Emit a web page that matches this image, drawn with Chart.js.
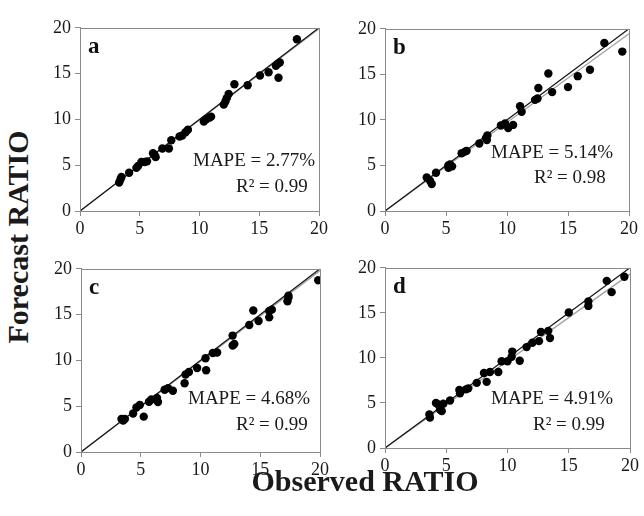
<!DOCTYPE html>
<html>
<head>
<meta charset="utf-8">
<script src="https://cdn.jsdelivr.net/npm/chart.js@4.4.1/dist/chart.umd.min.js"></script>
<style>
  html, body { margin:0; padding:0; background:#fff; }
  #wrap { position:relative; width:644px; height:516px; overflow:hidden; background:#fff; }
  canvas { position:absolute; }
  .title { position:absolute; font-family:"Liberation Serif","DejaVu Serif",serif; font-weight:bold; color:#1a1a1a; white-space:nowrap; }
</style>
</head>
<body>
<div id="wrap">
  <canvas id="ca"></canvas>
  <canvas id="cb"></canvas>
  <canvas id="cc"></canvas>
  <canvas id="cd"></canvas>
  <div class="title" id="ytitle">Forecast RATIO</div>
  <div class="title" id="xtitle">Observed RATIO</div>
</div>
<script>
// ---- data ----
const axisTicks = [0, 5, 10, 15, 20];
const panelLetters = ['a', 'b', 'c', 'd'];
const mapeLabels = ['MAPE = 2.77%', 'MAPE = 5.14%', 'MAPE = 4.68%', 'MAPE = 4.91%'];
const r2Labels = ['R² = 0.99', 'R² = 0.98', 'R² = 0.99', 'R² = 0.99'];

const obsA = [3.28,3.39,3.47,4.11,4.72,4.86,5.14,5.42,5.61,6.11,6.25,6.33,6.89,7.44,7.64,8.33,8.56,8.83,9.03,10.36,10.56,10.83,10.97,12.03,12.17,12.28,12.44,12.92,14.03,15.06,15.78,16.39,16.53,16.72,16.61,18.15];
const fcA  = [3.11,3.47,3.72,4.18,4.71,4.92,5.35,5.35,5.42,6.30,6.12,5.88,6.83,6.83,7.72,8.14,8.25,8.60,8.88,9.77,10.02,10.19,10.30,11.61,11.96,12.32,12.78,13.84,13.73,14.80,15.15,15.86,16.04,16.21,14.55,18.75];

const obsB = [3.42,3.69,3.83,4.18,5.19,5.33,5.20,5.50,6.28,6.56,6.69,7.73,8.28,8.39,8.35,9.50,9.84,10.10,10.50,11.07,11.20,12.30,12.50,12.57,13.39,13.70,15.00,15.80,16.80,17.98,19.45];
const fcB  = [3.67,3.32,2.96,4.20,5.00,5.10,4.75,4.90,6.34,6.52,6.60,7.41,8.02,8.30,7.80,9.38,9.60,9.10,9.45,11.50,10.90,12.20,12.35,13.50,15.10,13.05,13.60,14.80,15.50,18.45,17.50];

const obsC = [3.39,3.53,3.67,4.36,4.64,4.92,5.25,5.69,5.89,6.36,6.44,7.00,7.28,7.69,8.67,8.75,9.03,9.72,10.42,10.47,11.03,11.39,12.69,12.69,12.83,14.08,14.42,14.86,15.75,15.75,15.97,17.28,17.36,17.36,19.85];
const fcC  = [3.61,3.43,3.61,4.21,4.85,5.13,3.86,5.49,5.73,5.91,5.45,6.80,6.97,6.69,7.50,8.46,8.74,9.17,10.23,8.92,10.80,10.87,12.71,11.62,11.80,13.86,15.45,14.30,14.70,15.40,15.54,16.45,16.85,17.05,18.75];

const obsD = [3.62,3.67,4.16,4.35,4.63,4.49,4.76,5.31,6.07,6.12,6.61,6.80,7.49,8.08,8.30,8.57,9.25,9.52,10.00,10.34,10.39,11.00,11.56,12.03,12.57,12.73,13.33,13.47,15.00,16.60,16.60,18.10,18.50,19.54];
const fcD  = [3.73,3.37,4.99,4.82,4.09,4.27,4.92,5.28,6.44,6.07,6.51,6.62,7.23,8.32,7.34,8.43,8.43,9.62,9.62,10.13,10.70,9.69,11.20,11.68,11.86,12.87,13.00,12.20,15.04,16.27,15.77,18.55,17.30,19.00];

// 1:1 line and fitted line end points (x, y)
const oneToOneX = [0, 20], oneToOneY = [0, 20];
const fitX = [0, 20];
const fitYA = [0, 19.9];
const fitYB = [0, 19.45];
const fitYC = [0, 19.8];
const fitYD = [0, 19.3];

// ---- layout (chart areas in page pixels) ----
const areas = [
  {id:'ca', L:80,  R:319, T:23,  B:211, mapeDx:113, mapeDy:45, r2Dx:156, r2Dy:19},
  {id:'cb', L:385, R:629, T:24,  B:211, mapeDx:106, mapeDy:53, r2Dx:149, r2Dy:28},
  {id:'cc', L:81,  R:320, T:264, B:452, mapeDx:107, mapeDy:48, r2Dx:155, r2Dy:22},
  {id:'cd', L:385, R:630, T:263, B:448, mapeDx:106, mapeDy:44, r2Dx:148, r2Dy:18}
];
const obsAll = [obsA, obsB, obsC, obsD];
const fcAll = [fcA, fcB, fcC, fcD];
const fitYAll = [fitYA, fitYB, fitYC, fitYD];

const PADL = 45, PADT = 10, PADR = 15, PADB = 30;
const SERIF = '"Liberation Serif","DejaVu Serif",serif';
const FRAME = '#8a8a8a';

function pairs(xs, ys) { return xs.map((x, i) => ({x: x, y: ys[i]})); }

areas.forEach((a, i) => {
  const cv = document.getElementById(a.id);
  const w = (a.R - a.L) + PADL + PADR;
  const h = (a.B - a.T) + PADT + PADB;
  cv.width = w; cv.height = h;
  cv.style.width = w + 'px'; cv.style.height = h + 'px';
  cv.style.left = (a.L - PADL) + 'px';
  cv.style.top = (a.T - PADT) + 'px';

  const deco = {
    id: 'deco' + i,
    afterDraw(chart) {
      const c = chart.ctx, ca = chart.chartArea;
      c.save();
      c.strokeStyle = FRAME; c.lineWidth = 1;
      c.strokeRect(Math.round(ca.left) + 0.5, Math.round(ca.top) + 0.5,
                   Math.round(ca.right - ca.left), Math.round(ca.bottom - ca.top));
      c.fillStyle = '#111';
      c.textAlign = 'left'; c.textBaseline = 'alphabetic';
      c.font = 'bold 23px ' + SERIF;
      c.fillText(panelLetters[i], ca.left + 8, ca.top + 25);
      c.font = '19px ' + SERIF;
      c.fillStyle = '#1a1a1a';
      c.fillText(mapeLabels[i], ca.left + a.mapeDx, ca.bottom - a.mapeDy);
      c.fillText(r2Labels[i], ca.left + a.r2Dx, ca.bottom - a.r2Dy);
      c.restore();
    }
  };

  const tickFont = {family: SERIF, size: 18};
  new Chart(cv.getContext('2d'), {
    type: 'scatter',
    data: {
      datasets: [
        {data: pairs(obsAll[i], fcAll[i]), pointRadius: 4.2, pointBackgroundColor: '#000',
         pointBorderWidth: 0, showLine: false, order: 0},
        {data: pairs(fitX, fitYAll[i]), showLine: true, pointRadius: 0,
         borderColor: '#a0a0a0', borderWidth: 1.3, order: 2},
        {data: pairs(oneToOneX, oneToOneY), showLine: true, pointRadius: 0,
         borderColor: '#111', borderWidth: 1.2, order: 1}
      ]
    },
    options: {
      responsive: false, animation: false, events: [],
      layout: {padding: {top: PADT, right: PADR, left: 0, bottom: 0}},
      plugins: {legend: {display: false}, tooltip: {enabled: false}},
      scales: {
        x: {
          type: 'linear', min: 0, max: 20,
          afterBuildTicks(s) { s.ticks = axisTicks.map(v => ({value: v})); },
          ticks: {font: tickFont, color: '#1a1a1a', padding: 2, maxRotation: 0},
          grid: {drawOnChartArea: false, drawTicks: true, tickLength: 5, color: FRAME},
          border: {display: true, color: FRAME},
          afterFit(s) { s.height = PADB; }
        },
        y: {
          type: 'linear', min: 0, max: 20,
          afterBuildTicks(s) { s.ticks = axisTicks.map(v => ({value: v})); },
          ticks: {font: tickFont, color: '#1a1a1a', padding: 4},
          grid: {drawOnChartArea: false, drawTicks: true, tickLength: 5, color: FRAME},
          border: {display: true, color: FRAME},
          afterFit(s) { s.width = PADL; }
        }
      }
    },
    plugins: [deco]
  });
});

// axis titles
const yt = document.getElementById('ytitle');
yt.style.fontSize = '30px';
yt.style.left = '18px'; yt.style.top = '237px';
yt.style.transform = 'translate(-50%,-50%) rotate(-90deg)';
const xt = document.getElementById('xtitle');
xt.style.fontSize = '30px';
xt.style.left = '365px'; xt.style.top = '481px';
xt.style.transform = 'translate(-50%,-50%)';
</script>
</body>
</html>
